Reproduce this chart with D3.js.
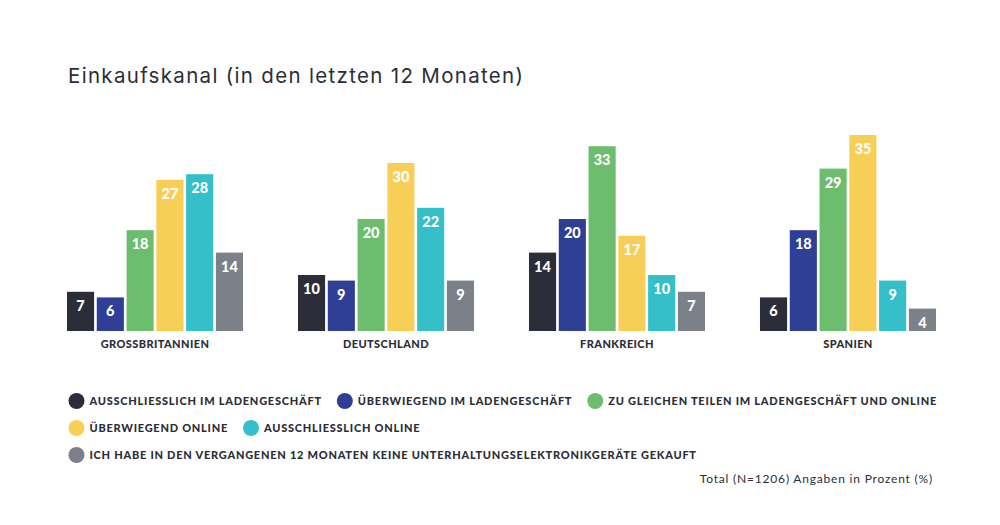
<!DOCTYPE html>
<html><head><meta charset="utf-8">
<script src="https://cdn.jsdelivr.net/npm/d3@7"></script>
<style>
body{margin:0;background:#fff;}
svg{display:block;}
</style></head>
<body>
<svg id="chart" width="1000" height="525"></svg>
<script>
const title = "Einkaufskanal (in den letzten 12 Monaten)";
const countries = ["GROSSBRITANNIEN","DEUTSCHLAND","FRANKREICH","SPANIEN"];
const seriesNames = [
  "AUSSCHLIESSLICH IM LADENGESCHÄFT",
  "ÜBERWIEGEND IM LADENGESCHÄFT",
  "ZU GLEICHEN TEILEN IM LADENGESCHÄFT UND ONLINE",
  "ÜBERWIEGEND ONLINE",
  "AUSSCHLIESSLICH ONLINE",
  "ICH HABE IN DEN VERGANGENEN 12 MONATEN KEINE UNTERHALTUNGSELEKTRONIKGERÄTE GEKAUFT"
];
const colors = ["#2b2e39","#2f3f96","#6cbd6d","#f7cf57","#35bfc8","#7b8089"];
const nurLaden   = [7,10,14,6];
const ueberLaden = [6,9,20,18];
const gleich     = [18,20,33,29];
const ueberOnline= [27,30,17,35];
const nurOnline  = [28,22,10,9];
const keine      = [14,9,7,4];
const seriesValues = [nurLaden,ueberLaden,gleich,ueberOnline,nurOnline,keine];
const footnote = "Total (N=1206) Angaben in Prozent (%)";
const legendRows = [[0,1,2],[3,4],[5]];

const svg = d3.select("#chart");
const dark = "#2b2e39";
const headFont = "Lato, 'Open Sans', sans-serif";

svg.append("text").attr("x",68).attr("y",83)
  .attr("font-family","Inter, 'Open Sans', sans-serif").attr("font-weight",400)
  .attr("font-size",20.5).attr("fill",dark)
  .attr("textLength",455).attr("lengthAdjust","spacing")
  .text(title);

const x0 = d3.scaleBand().domain(countries).range([67,936]).paddingInner(0.238).paddingOuter(0);
const x1 = d3.scaleBand().domain(d3.range(seriesNames.length)).range([0,x0.bandwidth()]).paddingInner(0.09).paddingOuter(0);
const y = d3.scaleLinear().domain([0,35]).range([331,135]);

const groups = svg.selectAll("g.grp").data(countries).join("g")
  .attr("class","grp").attr("transform",c=>`translate(${x0(c)},0)`);

groups.each(function(c,ci){
  const g = d3.select(this);
  const data = seriesValues.map((arr,si)=>({si, v:arr[ci]}));
  g.selectAll("rect").data(data).join("rect")
    .attr("x",d=>x1(d.si)).attr("width",x1.bandwidth())
    .attr("y",d=>y(d.v)).attr("height",d=>y(0)-y(d.v))
    .attr("fill",d=>colors[d.si]);
  g.selectAll("text.val").data(data).join("text")
    .attr("class","val")
    .attr("x",d=>x1(d.si)+x1.bandwidth()/2)
    .attr("y",d=>y(d.v)+19)
    .attr("text-anchor","middle")
    .attr("font-family",headFont).attr("font-weight",900)
    .attr("font-size",14.5).attr("fill","#fff")
    .text(d=>d.v);
  g.append("text")
    .attr("x",x0.bandwidth()/2).attr("y",348)
    .attr("text-anchor","middle")
    .attr("font-family",headFont).attr("font-weight",900)
    .attr("font-size",11).attr("letter-spacing",0.4).attr("fill",dark)
    .text(c);
});

// legend
const rowY = [401,428,455];
legendRows.forEach((row,ri)=>{
  let cx = 76.5;
  row.forEach(si=>{
    svg.append("circle").attr("cx",cx).attr("cy",rowY[ri]).attr("r",8).attr("fill",colors[si]);
    const t = svg.append("text").attr("x",cx+13).attr("y",rowY[ri]+4)
      .attr("font-family",headFont).attr("font-weight",900)
      .attr("font-size",11).attr("letter-spacing",0.75).attr("fill",dark)
      .text(seriesNames[si]);
    const w = t.node().getComputedTextLength();
    cx = cx + 13 + w + 23;
  });
});

svg.append("text").attr("x",933).attr("y",483)
  .attr("text-anchor","end")
  .attr("font-family",headFont).attr("font-weight",400)
  .attr("font-size",12).attr("letter-spacing",0.8).attr("fill",dark)
  .text(footnote);
</script>
</body></html>
